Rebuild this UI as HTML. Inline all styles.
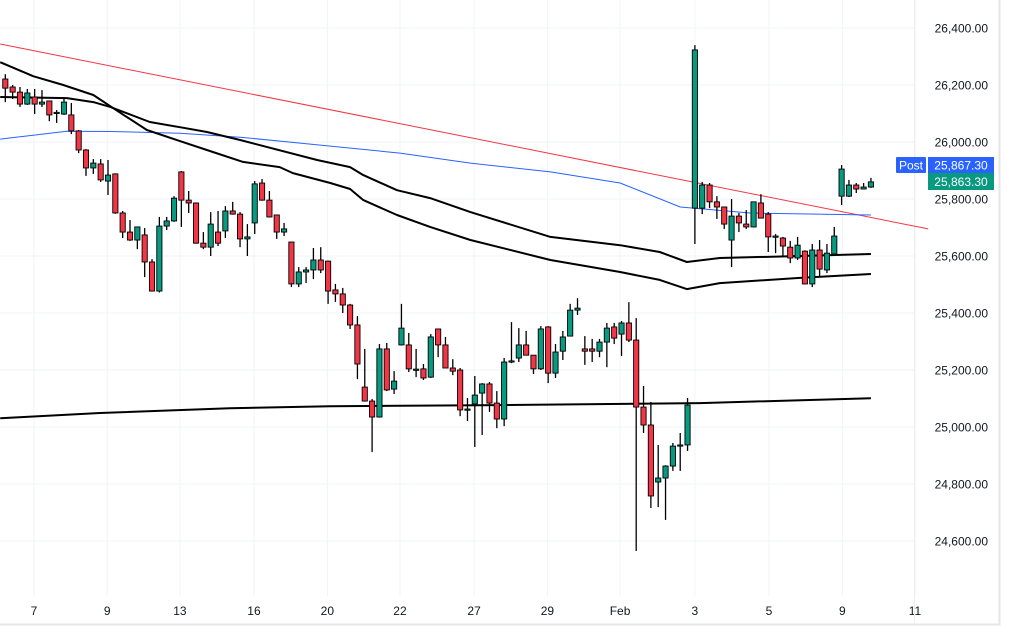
<!DOCTYPE html>
<html><head><meta charset="utf-8"><style>
html,body{margin:0;padding:0;background:#fff;}
#wrap{position:relative;width:1009px;height:638px;overflow:hidden;font-family:"Liberation Sans",sans-serif;}
svg text{font-family:"Liberation Sans",sans-serif;}
</style></head><body>
<div id="wrap">
<svg id="chart" width="1009" height="638"></svg>
</div>
<script>
const opens=[26221,26193,26175,26133,26158,26133,26144,26100,26098,26095,26039,25972,25909,25923,25863,25888,25751,25684,25656,25674,25579,25477,25705,25723,25895,25796,25786,25645,25631,25684,25688,25758,25747,25660,25716,25856,25796,25744,25684,25649,25502,25544,25551,25586,25582,25481,25467,25428,25358,25140,25091,25035,25274,25133,25288,25288,25200,25204,25175,25344,25288,25207,25200,25060,25081,25119,25151,25084,25028,25228,25242,25288,25252,25204,25351,25189,25266,25319,25410,25274,25274,25266,25298,25351,25326,25365,25305,25070,25007,24807,24821,24863,24933,24937,25768,25768,25849,25790,25772,25656,25740,25712,25702,25786,25747,25667,25663,25631,25593,25617,25502,25621,25551,25607,25810,25810,25849,25835,25842];
const highs=[26238,26200,26193,26186,26186,26182,26144,26112,26154,26137,26042,25975,25940,25940,25937,25890,25758,25726,25702,25698,25589,25737,25737,25810,25898,25828,25788,25684,25754,25758,25775,25790,25754,25712,25863,25870,25828,25744,25716,25650,25561,25561,25628,25631,25584,25502,25488,25432,25389,25274,25098,25291,25295,25196,25432,25330,25274,25221,25326,25344,25316,25238,25207,25102,25179,25154,25158,25126,25242,25368,25347,25337,25252,25354,25354,25291,25337,25432,25452,25319,25309,25309,25365,25365,25372,25438,25382,25144,25088,24937,24866,24944,24979,25102,26340,25860,25856,25810,25772,25800,25751,25761,25790,25817,25754,25677,25667,25653,25667,25620,25642,25656,25642,25702,25919,25867,25856,25856,25874];
const lows=[26140,26151,26123,26130,26098,26123,26073,26067,26095,26028,25961,25881,25888,25860,25814,25748,25663,25653,25624,25526,25475,25472,25691,25720,25702,25751,25643,25624,25600,25635,25663,25745,25631,25600,25677,25794,25735,25660,25670,25491,25491,25505,25519,25540,25432,25439,25400,25344,25168,25089,24912,25033,25126,25116,25286,25193,25175,25165,25172,25245,25207,25182,25038,25021,24930,24972,25053,24996,25003,25224,25228,25252,25186,25200,25154,25172,25235,25319,25393,25218,25228,25245,25210,25291,25249,25298,24565,24979,24716,24719,24674,24846,24846,24916,25642,25747,25768,25730,25695,25561,25684,25695,25700,25733,25614,25610,25600,25575,25586,25500,25491,25526,25540,25600,25779,25807,25821,25835,25839];
const closes=[26189,26175,26133,26172,26133,26140,26095,26104,26140,26039,25972,25909,25926,25867,25884,25751,25684,25656,25702,25579,25477,25705,25723,25803,25796,25786,25645,25631,25712,25645,25758,25747,25660,25667,25853,25796,25737,25684,25695,25502,25544,25551,25586,25551,25477,25467,25428,25358,25221,25091,25035,25274,25130,25161,25347,25204,25203,25172,25316,25288,25207,25196,25060,25063,25112,25151,25084,25028,25228,25232,25288,25252,25204,25344,25189,25263,25316,25410,25417,25266,25266,25298,25347,25312,25365,25305,25070,25007,24758,24821,24863,24933,24937,25077,26323,25849,25790,25772,25712,25740,25716,25702,25790,25733,25667,25670,25635,25593,25638,25502,25621,25554,25610,25670,25905,25849,25835,25842,25860];
const blueIdx=[-0.7,8.4,14.3,23.8,32,40.2,53.8,63.4,74.3,83.8,92,101.5,118];
const blueVal=[26010,26038,26037,26031,26017,25996,25961,25926,25895,25856,25772,25751,25744];
const maAIdx=[-0.7,3.8,7.9,12,14.7,19.3,23.8,28.3,32.4,37.4,39.2,44.3,47,48.8,53.4,57.9,63.4,74.3,83.8,89.2,92.9,97.4,108.3,118];
const maAVal=[26280,26231,26200,26165,26119,26042,26003,25965,25930,25912,25891,25856,25835,25796,25744,25702,25656,25586,25544,25516,25484,25505,25523,25537];
const maBIdx=[-0.7,8.4,12,14.3,19.7,23.8,27.5,32,42.5,47,48.8,53.4,57.9,63.4,74.3,83.8,89.2,92.9,97.4,108.3,118];
const maBVal=[26158,26154,26140,26123,26070,26052,26035,26007,25937,25912,25884,25831,25803,25754,25667,25638,25614,25579,25593,25600,25607];
const longIdx=[-0.7,12.9,30.6,44.3,67.4,94.7,118];
const longVal=[25031,25049,25066,25073,25077,25084,25101];
const trendIdx=[-0.7,125.8];
const trendVal=[26344,25695];
const yTicks=[26400,26200,26000,25800,25600,25400,25200,25000,24800,24600];
const xTickLabels=["7","9","13","16","20","22","27","29","Feb","3","5","9","11"];
const xTickIdx=[3.9,13.9,23.8,33.9,43.9,53.8,63.9,73.9,83.8,94,104.1,114.1,124];
const lastPrice=25867.30, lastClose=25863.30;

const NS="http://www.w3.org/2000/svg";
const svg=document.getElementById('chart');
const yS=v=>28+(26400-v)*0.285;
const xS=i=>5.3+i*7.336;
function el(tag,attrs,parent){const e=document.createElementNS(NS,tag);for(const k in attrs)e.setAttribute(k,attrs[k]);(parent||svg).appendChild(e);return e;}
function fmt(v){return v.toLocaleString('en-US',{minimumFractionDigits:2,maximumFractionDigits:2});}

// frame
let bg=el('rect',{x:0,y:0,width:999,height:624,fill:'#fff'});


let bR=el('rect',{x:999,y:0,width:10,height:638,fill:'#fff'});


let fb=el('path',{d:'M999.5 0V624.5H0',stroke:'#e6e6e6','stroke-width':2,fill:'none'});



// grid
yTicks.forEach(v=>{
  const g=el('line',{x1:0,x2:914,y1:yS(v),y2:yS(v),stroke:'#f0f3fa','stroke-width':1});
  
  
  const t=el('text',{x:988,y:yS(v)+4.5,'text-anchor':'end','font-size':12,fill:'#131722'});
  t.textContent=fmt(v);
  
  
});
xTickIdx.forEach((ix,k)=>{
  const g=el('line',{x1:xS(ix),x2:xS(ix),y1:0,y2:596,stroke:'#f0f3fa','stroke-width':1});
  
  
  const t=el('text',{x:xS(ix),y:615,'text-anchor':'middle','font-size':12,fill:'#131722'});
  t.textContent=xTickLabels[k];
  
  
});
let sep=el('line',{x1:914.5,x2:914.5,y1:0,y2:624,stroke:'#eeeeee'});



// lines
function poly(idx,val,color,w,name){
  const pts=idx.map((ix,k)=>xS(ix).toFixed(1)+','+yS(val[k]).toFixed(1)).join(' ');
  const p=el('polyline',{points:pts,fill:'none',stroke:color,'stroke-width':w,'stroke-linejoin':'round'});
  
  
}
poly(trendIdx,trendVal,'#f23645',1,'trend-line');
poly(blueIdx,blueVal,'#2962ff',1,'blue-moving-average');
poly(maAIdx,maAVal,'#000',2,'moving-average-a');
poly(maBIdx,maBVal,'#000',2,'moving-average-b');
poly(longIdx,longVal,'#000',2,'long-moving-average');

// candles
opens.forEach((o,i)=>{
  const c=closes[i],h=highs[i],l=lows[i];
  const up=c>=o, x=xS(i);
  const g=el('g',{});
  
  
  el('line',{x1:x,x2:x,y1:yS(h),y2:yS(l),stroke:'#000','stroke-width':1.3},g);
  const top=yS(Math.max(o,c)),bot=yS(Math.min(o,c));
  el('rect',{x:x-2.6,y:top,width:5.2,height:Math.max(bot-top,1.2),fill:up?'#089981':'#f23645',stroke:'#000','stroke-width':0.9},g);
});

// labels
let pb=el('rect',{x:896,y:157,width:30,height:16,fill:'#2962ff',rx:1});


let pt=el('text',{x:911,y:169.5,'text-anchor':'middle','font-size':12,fill:'#fff'});pt.textContent='Post';


let lb=el('rect',{x:928,y:157,width:66,height:16,fill:'#2962ff'});


let lt=el('text',{x:961,y:169.5,'text-anchor':'middle','font-size':12,fill:'#fff'});lt.textContent=fmt(lastPrice);


let gb=el('rect',{x:928,y:173,width:66,height:17,fill:'#089981'});


let gt=el('text',{x:961,y:186,'text-anchor':'middle','font-size':12,fill:'#fff'});gt.textContent=fmt(lastClose);


</script>
</body></html>
